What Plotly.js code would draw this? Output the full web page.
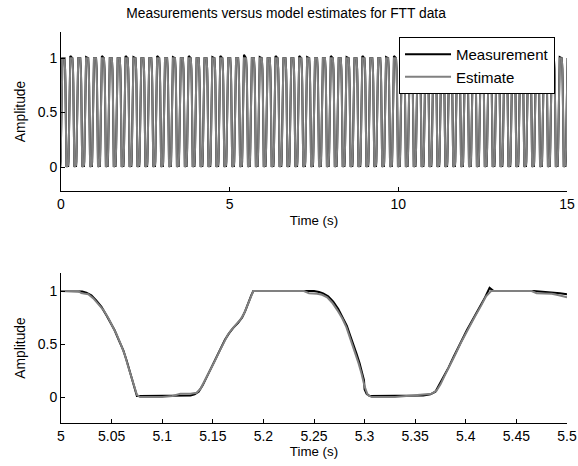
<!DOCTYPE html>
<html>
<head>
<meta charset="utf-8">
<script src="https://cdn.plot.ly/plotly-3.0.1.min.js"></script>
<style>html,body{margin:0;padding:0;background:#fff;}#chart{width:578px;height:466px;}</style>
</head>
<body>
<div id="chart"></div>
<script>
// ---- Data ----
// Zoomed view (5 s to 5.5 s): measurement
const zoomMeasTime = [5.000,5.017,5.021,5.025,5.030,5.035,5.040,5.045,5.050,5.053,5.057,5.0616,5.065,5.068,5.071,5.073,5.075,5.078,5.100,5.120,5.128,5.132,5.136,5.140,5.144,5.149,5.154,5.158,5.162,5.166,5.170,5.175,5.179,5.182,5.185,5.188,5.190,5.250,5.255,5.259,5.264,5.269,5.274,5.279,5.2825,5.2856,5.289,5.292,5.295,5.297,5.2994,5.300,5.302,5.305,5.330,5.350,5.358,5.365,5.370,5.374,5.378,5.383,5.388,5.394,5.401,5.408,5.414,5.419,5.4235,5.4275,5.467,5.475,5.486,5.493,5.500];
const zoomMeasAmp = [1.0,1.0,0.995,0.985,0.96,0.91,0.85,0.77,0.69,0.63,0.54,0.44,0.34,0.24,0.14,0.07,0.01,0.01,0.01,0.01,0.015,0.025,0.05,0.11,0.19,0.28,0.38,0.46,0.54,0.60,0.65,0.70,0.75,0.81,0.89,0.96,1.0,1.0,0.99,0.978,0.95,0.90,0.83,0.74,0.67,0.585,0.50,0.41,0.32,0.255,0.16,0.07,0.03,0.01,0.01,0.01,0.015,0.025,0.05,0.12,0.19,0.28,0.38,0.50,0.63,0.75,0.85,0.94,1.03,1.0,1.0,0.995,0.99,0.98,0.97];
// Zoomed view: model estimate
const zoomEstTime = [5.000,5.017,5.020,5.027,5.032,5.037,5.042,5.047,5.051,5.055,5.059,5.063,5.066,5.069,5.072,5.075,5.078,5.100,5.110,5.118,5.128,5.134,5.138,5.142,5.147,5.152,5.157,5.161,5.165,5.169,5.174,5.178,5.181,5.184,5.187,5.190,5.240,5.245,5.253,5.258,5.263,5.268,5.273,5.278,5.282,5.285,5.288,5.291,5.294,5.297,5.300,5.303,5.307,5.330,5.345,5.358,5.366,5.371,5.375,5.379,5.384,5.389,5.395,5.402,5.409,5.415,5.420,5.425,5.465,5.470,5.485,5.492,5.500];
const zoomEstAmp = [1.0,1.0,0.98,0.97,0.93,0.88,0.82,0.74,0.67,0.59,0.50,0.40,0.30,0.20,0.10,0.02,0.0,0.0,0.01,0.03,0.03,0.04,0.08,0.15,0.24,0.34,0.44,0.52,0.59,0.64,0.69,0.74,0.79,0.86,0.94,1.0,1.0,0.98,0.975,0.965,0.94,0.89,0.82,0.74,0.66,0.58,0.50,0.41,0.32,0.22,0.10,0.02,0.0,0.0,0.01,0.02,0.03,0.06,0.12,0.20,0.29,0.39,0.51,0.64,0.76,0.86,0.95,1.0,1.0,0.98,0.975,0.96,0.94];

// Full record (0 s to 15 s): times at which each cycle starts to fall from 1
const cycleFallTimes = [-0.131,0.103,0.337,0.571,0.805,1.039,1.273,1.507,1.741,1.975,2.209,2.443,2.677,2.911,3.145,3.379,3.613,3.847,4.081,4.315,4.549,4.783,5.017,5.251,5.485,5.719,5.953,6.187,6.421,6.655,6.889,7.123,7.357,7.591,7.825,8.059,8.293,8.527,8.761,8.995,9.229,9.463,9.697,9.931,10.165,10.399,10.633,10.867,11.101,11.335,11.569,11.803,12.037,12.271,12.505,12.739,12.973,13.207,13.441,13.675,13.909,14.143,14.377,14.611,14.845];
// peak level reached at the end of each cycle's rise (measurement)
const cyclePeakMeas = [1.0,1.02,1.0,1.01,1.0,1.02,1.0,1.0,1.02,1.01,1.0,1.0,1.02,1.0,1.01,1.0,1.02,1.0,1.0,1.01,1.02,1.0,1.0,1.03,1.0,1.01,1.0,1.02,1.0,1.0,1.02,1.01,1.0,1.0,1.02,1.0,1.01,1.0,1.02,1.0,1.0,1.01,1.02,1.0,1.0,1.02,1.0,1.01,1.0,1.02,1.0,1.0,1.01,1.02,1.0,1.0,1.02,1.0,1.01,1.0,1.02,1.0,1.0,1.01,1.0];
// one-cycle shape (offset from fall start, amplitude) read from the zoomed view
const shapeOffset = [0,0.008,0.018,0.028,0.036,0.045,0.051,0.058,0.110,0.119,0.127,0.137,0.145,0.153,0.162,0.168,0.173];
const shapeMeas   = [1.0,0.98,0.90,0.77,0.63,0.44,0.22,0.01,0.01,0.05,0.19,0.38,0.54,0.65,0.74,0.92,1.0];
const shapeEst    = [1.0,0.97,0.89,0.75,0.60,0.42,0.22,0.0,0.02,0.06,0.18,0.36,0.53,0.64,0.73,0.90,1.0];

// ---- Build the full-record series from the read cycle data ----
const fullTime = [], fullMeas = [], fullEstTime = [], fullEst = [];
cycleFallTimes.forEach((tf, i) => {
  shapeOffset.forEach((d, j) => {
    const last = j === shapeOffset.length - 1;
    fullTime.push(+(tf + d).toFixed(4));
    fullMeas.push(last ? cyclePeakMeas[i] : shapeMeas[j]);
    fullEstTime.push(+(tf + d).toFixed(4));
    fullEst.push(shapeEst[j]);
  });
});

const FONT = 'Liberation Sans, Arial, sans-serif';
const MEAS_COLOR = '#000000';
const EST_COLOR = '#808080';

const traces = [
  {x: fullTime, y: fullMeas, xaxis: 'x', yaxis: 'y', type: 'scatter', mode: 'lines',
   name: 'Measurement', line: {color: MEAS_COLOR, width: 2}},
  {x: fullEstTime, y: fullEst, xaxis: 'x', yaxis: 'y', type: 'scatter', mode: 'lines',
   name: 'Estimate', line: {color: EST_COLOR, width: 2}},
  {x: zoomMeasTime, y: zoomMeasAmp, xaxis: 'x2', yaxis: 'y2', type: 'scatter', mode: 'lines',
   name: 'Measurement', line: {color: MEAS_COLOR, width: 2}, showlegend: false},
  {x: zoomEstTime, y: zoomEstAmp, xaxis: 'x2', yaxis: 'y2', type: 'scatter', mode: 'lines',
   name: 'Estimate', line: {color: EST_COLOR, width: 2}, showlegend: false}
];

const axisCommon = {
  showline: true, linecolor: '#000', linewidth: 1, mirror: false,
  ticks: 'inside', ticklen: 4, tickcolor: '#000', tickwidth: 1,
  showgrid: false, zeroline: false,
  tickfont: {family: FONT, size: 14, color: '#000'}
};

const layout = {
  width: 578, height: 466,
  paper_bgcolor: '#fff', plot_bgcolor: '#fff',
  margin: {l: 61, r: 11, t: 32, b: 43},
  font: {family: FONT, size: 13.3, color: '#000'},
  title: {text: 'Measurements versus model estimates for FTT data',
          font: {family: FONT, size: 13.8, color: '#000'},
          xref: 'container', x: 0.495, xanchor: 'center',
          yref: 'container', y: 0.972, yanchor: 'middle'},
  showlegend: true,
  legend: {x: 0.668, xanchor: 'left', y: 0.987, yanchor: 'top',
           bgcolor: '#fff', bordercolor: '#000', borderwidth: 1,
           font: {family: FONT, size: 15, color: '#000'}, itemwidth: 46,
           traceorder: 'normal'},
  xaxis: Object.assign({}, axisCommon, {domain: [0, 1], anchor: 'y', range: [0, 15],
           tickvals: [0, 5, 10, 15],
           title: {text: 'Time (s)', font: {family: FONT, size: 13.3}, standoff: 4}}),
  yaxis: Object.assign({}, axisCommon, {domain: [0.5934, 1], anchor: 'x', range: [-0.22, 1.24],
           tickvals: [0, 0.5, 1],
           title: {text: 'Amplitude', font: {family: FONT, size: 13.8}, standoff: 8}}),
  xaxis2: Object.assign({}, axisCommon, {domain: [0, 1], anchor: 'y2', range: [5, 5.5],
           tickvals: [5, 5.05, 5.1, 5.15, 5.2, 5.25, 5.3, 5.35, 5.4, 5.45, 5.5],
           title: {text: 'Time (s)', font: {family: FONT, size: 13.3}, standoff: 2}}),
  yaxis2: Object.assign({}, axisCommon, {domain: [0, 0.3836], anchor: 'x2', range: [-0.245, 1.17],
           tickvals: [0, 0.5, 1],
           title: {text: 'Amplitude', font: {family: FONT, size: 13.8}, standoff: 8}})
};

Plotly.newPlot('chart', traces, layout, {staticPlot: true, displayModeBar: false});
</script>
</body>
</html>
